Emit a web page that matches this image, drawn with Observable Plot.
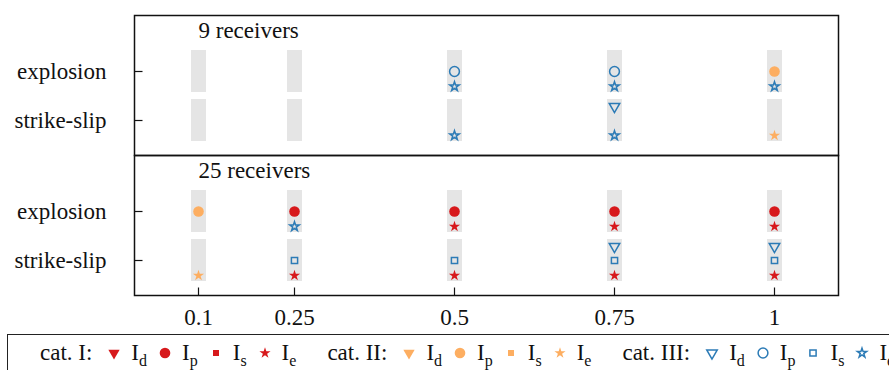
<!DOCTYPE html>
<html><head><meta charset="utf-8">
<script src="https://cdn.jsdelivr.net/npm/d3@7"></script>
<script src="https://cdn.jsdelivr.net/npm/@observablehq/plot@0.6"></script>
<style>
html,body{margin:0;padding:0;background:#fff;}
body{width:889px;height:370px;overflow:hidden;position:relative;font-family:"Liberation Serif","Times New Roman",serif;color:#111;}
#chart{position:absolute;left:0;top:0;}
#legend{position:absolute;left:7px;top:334px;width:1000px;height:60px;box-sizing:border-box;border:1.5px solid #222;white-space:nowrap;font-size:23px;line-height:26px;padding:5px 0 0 32px;}
#legend .group{display:inline-block;margin-right:21px;}
#legend .cat{display:inline-block;margin-right:14px;}
#legend .item{display:inline-block;margin-right:10px;}
#legend svg{vertical-align:-1px;margin-right:9px;overflow:visible;}
#legend sub{font-size:16px;line-height:0;vertical-align:-6px;}
</style></head>
<body><div id="chart"></div><div id="legend"></div>
<script>
// ---- data ----
const panels = ["9 receivers", "25 receivers"];
const rows = ["explosion", "strike-slip"];
const xTicks = [0.1, 0.25, 0.5, 0.75, 1];
const catNames = ["I", "II", "III"];
const catColors = ["#d7191c", "#fdae61", "#2c7bb6"];
const indicators = ["d", "p", "s", "e"];

// [row, x, category, indicator]
const receivers9 = [
  ["explosion", 0.5, "III", "p"], ["explosion", 0.5, "III", "e"],
  ["explosion", 0.75, "III", "p"], ["explosion", 0.75, "III", "e"],
  ["explosion", 1, "II", "p"], ["explosion", 1, "III", "e"],
  ["strike-slip", 0.5, "III", "e"],
  ["strike-slip", 0.75, "III", "d"], ["strike-slip", 0.75, "III", "e"],
  ["strike-slip", 1, "II", "e"]
];
const receivers25 = [
  ["explosion", 0.1, "II", "p"],
  ["explosion", 0.25, "I", "p"], ["explosion", 0.25, "III", "e"],
  ["explosion", 0.5, "I", "p"], ["explosion", 0.5, "I", "e"],
  ["explosion", 0.75, "I", "p"], ["explosion", 0.75, "I", "e"],
  ["explosion", 1, "I", "p"], ["explosion", 1, "I", "e"],
  ["strike-slip", 0.1, "II", "e"],
  ["strike-slip", 0.25, "III", "s"], ["strike-slip", 0.25, "I", "e"],
  ["strike-slip", 0.5, "III", "s"], ["strike-slip", 0.5, "I", "e"],
  ["strike-slip", 0.75, "III", "d"], ["strike-slip", 0.75, "III", "s"], ["strike-slip", 0.75, "I", "e"],
  ["strike-slip", 1, "III", "d"], ["strike-slip", 1, "III", "s"], ["strike-slip", 1, "I", "e"]
];

// ---- styles ----
const SYMBOL = {d: "triangle", p: "circle", s: "square", e: "star"};
const D3SYM = {d: d3.symbolTriangle, p: d3.symbolCircle, s: d3.symbolSquare, e: d3.symbolStar};
const ROTATE = {d: 180, p: 0, s: 0, e: 0};
const DY = {d: -14, p: 0, s: 0, e: 15};
const R_FILLED = {d: 4.2, p: 5.3, s: 3.4, e: 3.5};
const R_HOLLOW = {d: 3.9, p: 4.9, s: 3.5, e: 2.9};
const colorOf = Object.fromEntries(catNames.map((c, i) => [c, catColors[i]]));
const hollowCat = "III";
const FONT = 23;

const records = [
  ...receivers9.map(([row, x, cat, ind]) => ({panel: panels[0], row, x, cat, ind})),
  ...receivers25.map(([row, x, cat, ind]) => ({panel: panels[1], row, x, cat, ind}))
];
const bands = panels.flatMap(panel => rows.flatMap(row => xTicks.map(x => ({panel, row, x}))));
const rowTicks = panels.flatMap(panel => rows.map(row => ({panel, row})));

const tickUp = {draw(ctx) { ctx.moveTo(0, 0); ctx.lineTo(0, -8); }};
const tickRight = {draw(ctx) { ctx.moveTo(0, 0); ctx.lineTo(8, 0); }};

const dotMarks = [];
for (const cat of catNames) {
  for (const ind of indicators) {
    const data = records.filter(d => d.cat === cat && d.ind === ind);
    if (!data.length) continue;
    const hollow = cat === hollowCat;
    dotMarks.push(Plot.dot(data, {
      x: "x", y: "row", fy: "panel",
      symbol: SYMBOL[ind], rotate: ROTATE[ind], dy: DY[ind],
      r: hollow ? R_HOLLOW[ind] : R_FILLED[ind],
      fill: hollow ? "none" : colorOf[cat],
      stroke: hollow ? colorOf[cat] : "none",
      strokeWidth: hollow ? 1.5 : 0
    }));
  }
}

const chart = Plot.plot({
  width: 889, height: 333,
  marginTop: 14, marginBottom: 38, marginLeft: 134, marginRight: 51,
  style: {fontFamily: "'Liberation Serif', 'Times New Roman', serif", fontSize: FONT + "px", background: "white", color: "#111"},
  x: {domain: [0, 1.1], ticks: xTicks, tickFormat: d => String(d), tickSize: 0, tickPadding: 13, label: null},
  y: {type: "band", domain: rows, paddingInner: 0.146, paddingOuter: 0.478, align: 0.711, tickSize: 0, tickPadding: 28, label: null},
  fy: {domain: panels, padding: 0, axis: null, label: null},
  marks: [
    Plot.tickX(bands, {x: "x", y: "row", fy: "panel", stroke: "#e5e5e5", strokeWidth: 15}),
    ...dotMarks,
    Plot.text(panels, {fy: d => d, x: panels.map(() => xTicks[0]), text: d => d, frameAnchor: "top", lineAnchor: "top", textAnchor: "start", dy: 6.5, fontSize: FONT}),
    Plot.dot(xTicks, {x: d => d, fy: xTicks.map(() => panels[1]), frameAnchor: "bottom", symbol: tickUp, stroke: "#111", strokeWidth: 1.2, fill: "none"}),
    Plot.dot(rowTicks, {y: "row", fy: "panel", frameAnchor: "left", symbol: tickRight, stroke: "#111", strokeWidth: 1.2, fill: "none"}),
    Plot.frame({stroke: "#111", strokeWidth: 1.5})
  ]
});
document.getElementById("chart").appendChild(chart);

// ---- legend ----
const legend = d3.select("#legend");
catNames.forEach(cat => {
  const g = legend.append("span").attr("class", "group");
  g.append("span").attr("class", "cat").text(`cat. ${cat}:`);
  const hollow = cat === hollowCat;
  indicators.forEach(ind => {
    const item = g.append("span").attr("class", "item");
    const r = hollow ? R_HOLLOW[ind] : R_FILLED[ind];
    const svg = item.append("svg").attr("width", 16).attr("height", 16).attr("viewBox", "-8 -8 16 16");
    svg.append("path")
      .attr("d", d3.symbol(D3SYM[ind], Math.PI * r * r)())
      .attr("transform", `rotate(${ROTATE[ind]})`)
      .attr("fill", hollow ? "none" : colorOf[cat])
      .attr("stroke", hollow ? colorOf[cat] : "none")
      .attr("stroke-width", hollow ? 1.5 : 0);
    const lab = item.append("span");
    lab.append("span").text("I");
    lab.append("sub").text(ind);
  });
});
</script>
</body></html>
